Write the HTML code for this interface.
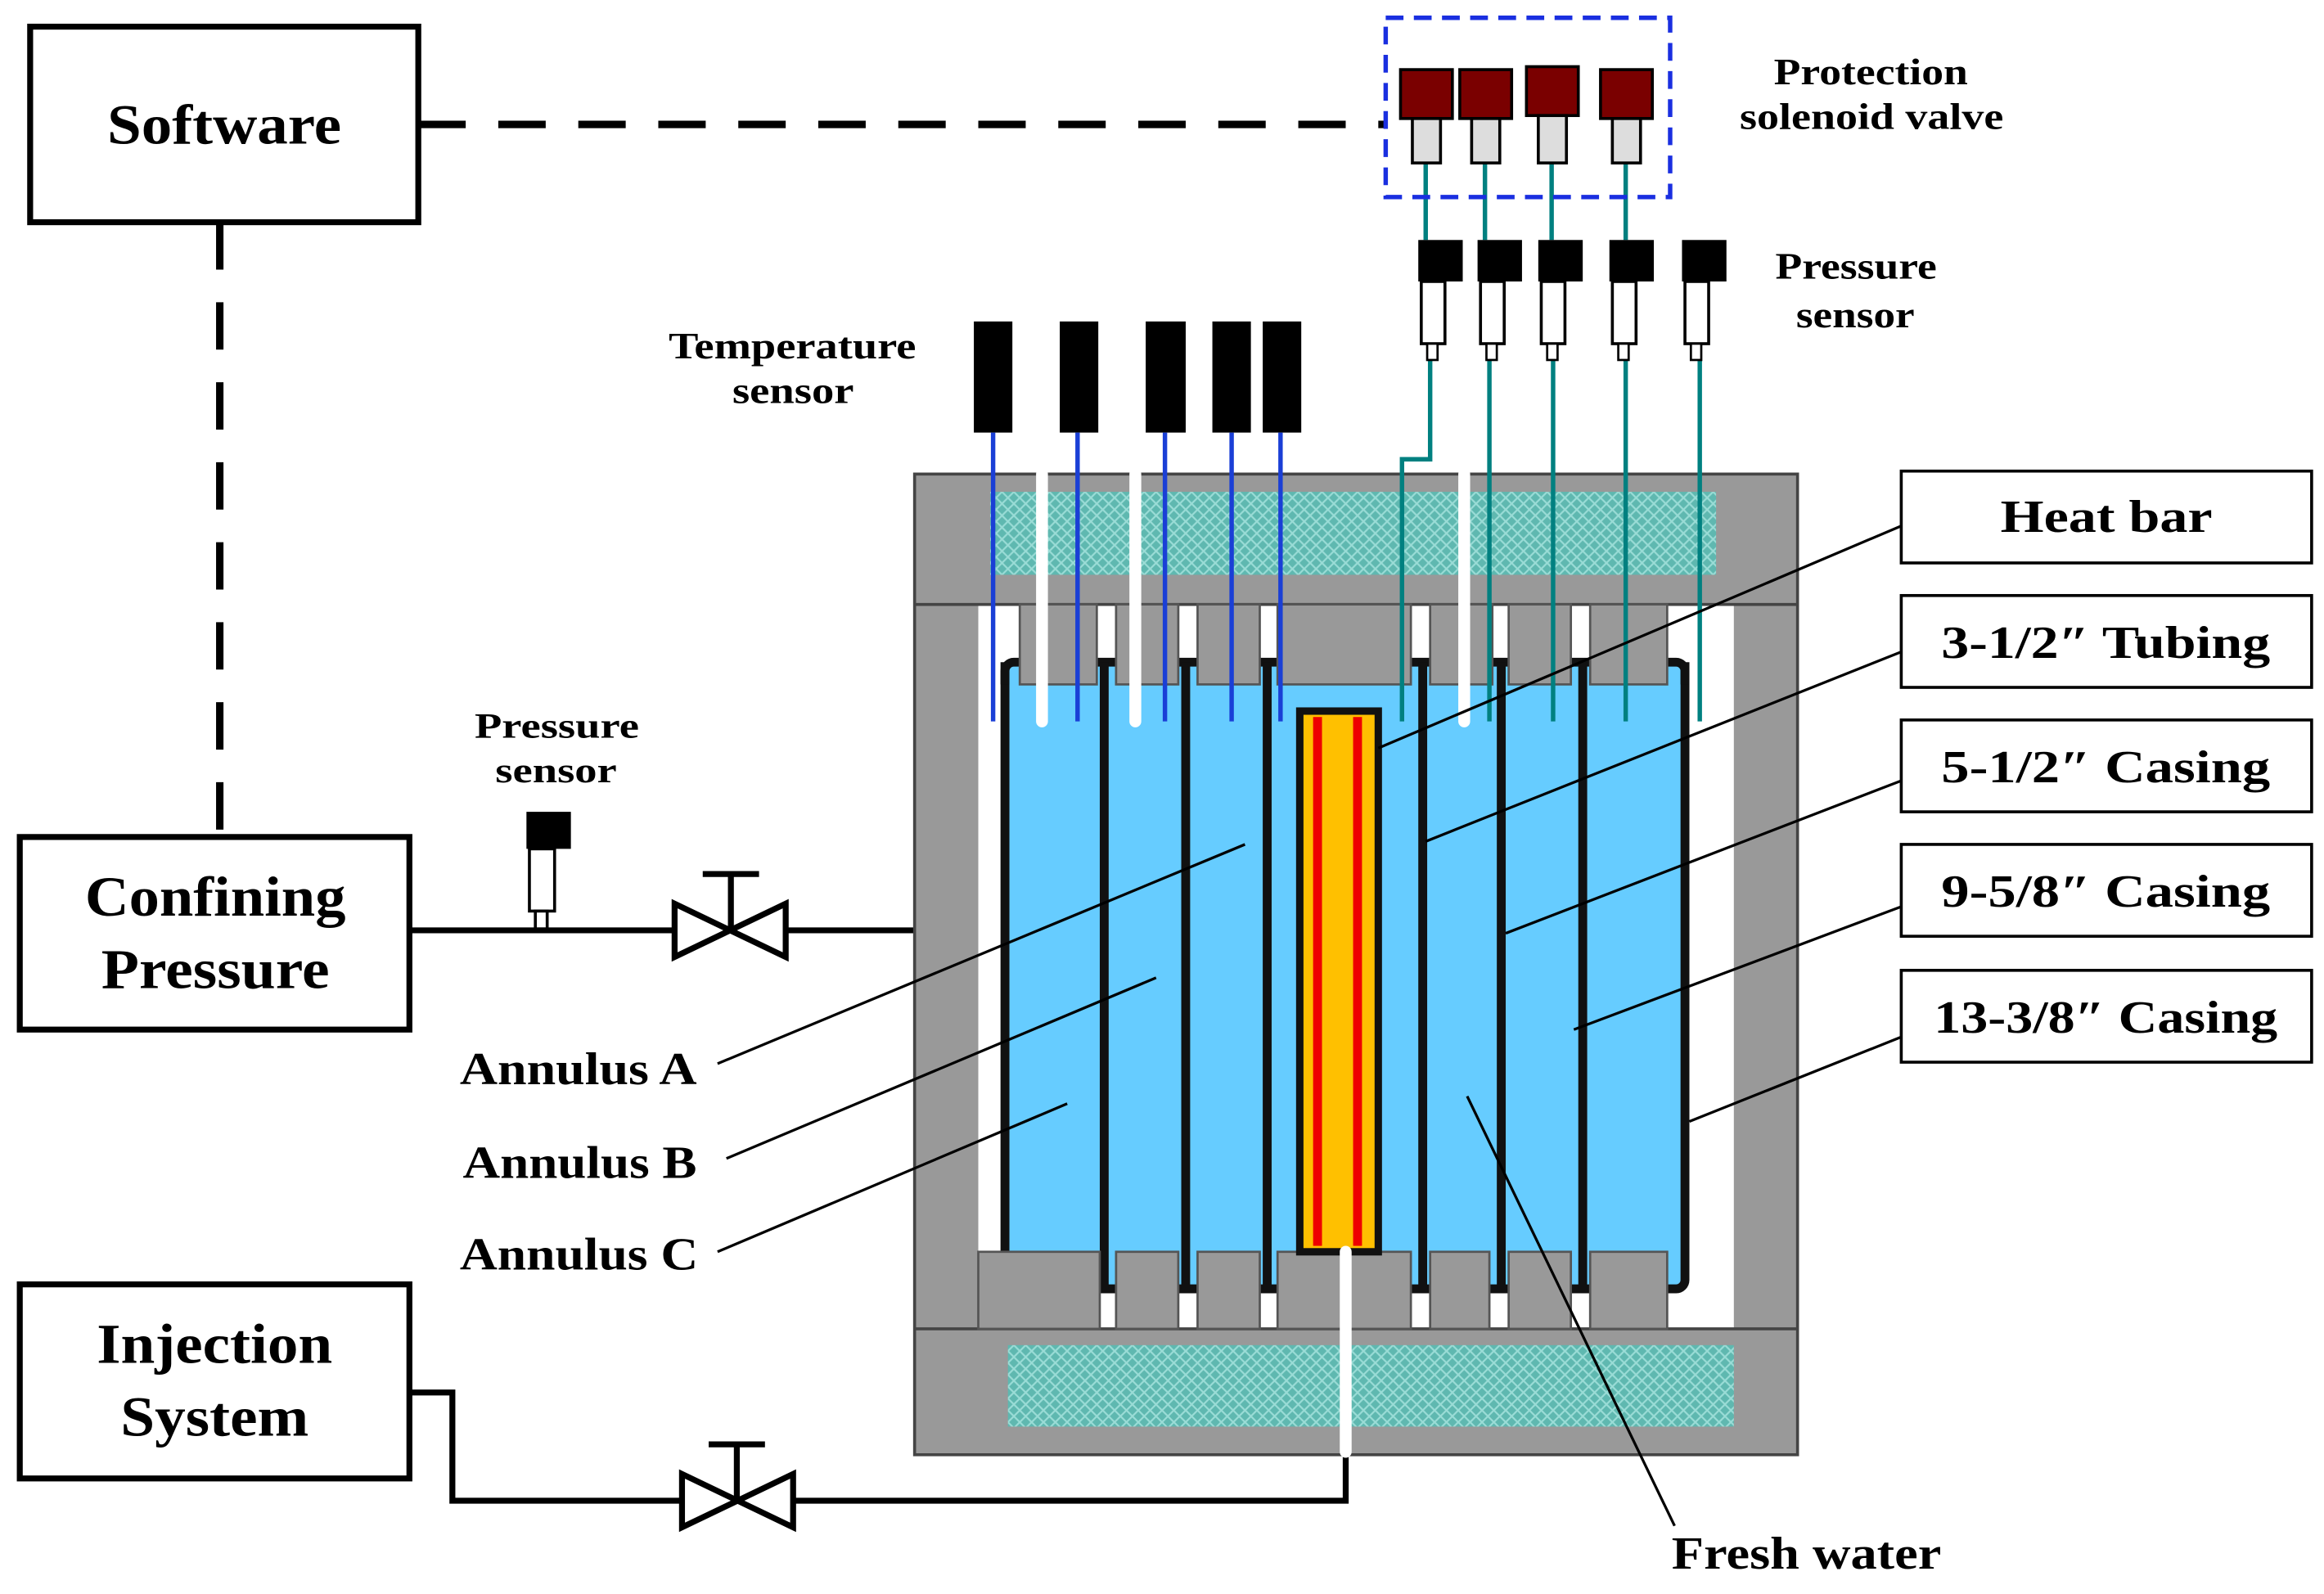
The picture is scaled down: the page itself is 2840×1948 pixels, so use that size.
<!DOCTYPE html>
<html><head><meta charset="utf-8"><style>html,body{margin:0;padding:0;background:#fff}svg{display:block}</style></head>
<body>
<svg width="2840" height="1948" viewBox="0 0 1568 1076" xmlns="http://www.w3.org/2000/svg" font-family="Liberation Serif, serif" font-weight="bold">
<defs>
<pattern id="h" width="8" height="8" patternUnits="userSpaceOnUse">
<rect width="8" height="8" fill="#5fb8b0"/>
<path d="M0 0L8 8M8 0L0 8" stroke="#9adcd6" stroke-width="1.2"/>
</pattern>
</defs>
<rect x="20" y="18" width="262" height="132" fill="#fff" stroke="#000" stroke-width="4"/>
<text x="72" y="97" font-size="38" textLength="158" lengthAdjust="spacingAndGlyphs">Software</text>
<rect x="13" y="565" width="263" height="130" fill="#fff" stroke="#000" stroke-width="4"/>
<text x="57" y="618" font-size="38" textLength="176" lengthAdjust="spacingAndGlyphs">Confining</text>
<text x="68" y="667" font-size="38" textLength="154" lengthAdjust="spacingAndGlyphs">Pressure</text>
<rect x="13" y="867" width="263" height="131" fill="#fff" stroke="#000" stroke-width="4"/>
<text x="65" y="920" font-size="38" textLength="159" lengthAdjust="spacingAndGlyphs">Injection</text>
<text x="81" y="969" font-size="38" textLength="127" lengthAdjust="spacingAndGlyphs">System</text>
<path d="M282 84H935" stroke="#000" stroke-width="5" stroke-dasharray="32 22" fill="none"/>
<path d="M148 150V565" stroke="#000" stroke-width="5" stroke-dasharray="32 22" fill="none"/>
<path d="M276 628H617" stroke="#000" stroke-width="4"/>
<path d="M455 610L530 646V610L455 646Z" fill="#fff" stroke="#000" stroke-width="4"/>
<path d="M493 628V590M474 590H512" stroke="#000" stroke-width="4"/>
<rect x="355" y="548" width="30" height="25" fill="#000"/>
<rect x="357" y="573" width="17" height="42" fill="#fff" stroke="#000" stroke-width="2"/>
<rect x="361" y="615" width="8" height="12" fill="#fff" stroke="#000" stroke-width="2"/>
<text x="320" y="498" font-size="24" textLength="111" lengthAdjust="spacingAndGlyphs">Pressure</text>
<text x="334" y="528" font-size="24" textLength="82" lengthAdjust="spacingAndGlyphs">sensor</text>
<path d="M276 940H305V1013H908V980" stroke="#000" stroke-width="4" fill="none"/>
<path d="M460 995L535 1031V995L460 1031Z" fill="#fff" stroke="#000" stroke-width="4"/>
<path d="M497 1013V975M478 975H516" stroke="#000" stroke-width="4"/>
<rect x="617" y="320" width="596" height="662" fill="#999" stroke="#444" stroke-width="2"/>
<rect x="660" y="408" width="510" height="489" fill="#fff"/>
<path d="M617 408H1213M617 897H1213" stroke="#444" stroke-width="2"/>
<rect x="668" y="332" width="490" height="56" fill="url(#h)"/>
<rect x="680" y="908" width="490" height="55" fill="url(#h)"/>
<rect x="678" y="447" width="459" height="423" rx="6" fill="#66ccff" stroke="#111" stroke-width="6"/>
<g fill="#999" stroke="#555" stroke-width="1.5">
<rect x="688" y="408" width="52" height="54"/><rect x="753" y="408" width="42" height="54"/><rect x="808" y="408" width="42" height="54"/>
<rect x="862" y="408" width="90" height="54"/><rect x="965" y="408" width="42" height="54"/><rect x="1018" y="408" width="42" height="54"/><rect x="1073" y="408" width="52" height="54"/>
</g>
<path d="M678 462V447M1137 462V447" stroke="#111" stroke-width="6"/>
<g stroke="#111" stroke-width="6">
<path d="M745 447V870M800 447V870M855 447V870M960 447V870M1013 447V870M1068 447V870"/>
</g>
<g fill="#999" stroke="#555" stroke-width="1.5">
<rect x="660" y="845" width="82" height="52"/><rect x="753" y="845" width="42" height="52"/><rect x="808" y="845" width="42" height="52"/>
<rect x="862" y="845" width="90" height="52"/><rect x="965" y="845" width="40" height="52"/><rect x="1018" y="845" width="42" height="52"/><rect x="1073" y="845" width="52" height="52"/>
</g>
<rect x="877" y="480" width="53" height="365" fill="#ffc000" stroke="#111" stroke-width="5"/>
<rect x="886" y="484" width="6" height="357" fill="#e00"/>
<rect x="913" y="484" width="6" height="357" fill="#e00"/>
<path d="M703 320V487M766 320V487M988 320V487M908 845V980" stroke="#fff" stroke-width="8" stroke-linecap="round"/>
<g fill="#000"><rect x="657" y="217" width="26" height="75"/><rect x="715" y="217" width="26" height="75"/><rect x="773" y="217" width="27" height="75"/><rect x="818" y="217" width="26" height="75"/><rect x="852" y="217" width="26" height="75"/></g>
<path d="M670 292V487M727 292V487M786 292V487M831 292V487M864 292V487" stroke="#1a3fd6" stroke-width="3"/>
<text x="451" y="242" font-size="25" textLength="167" lengthAdjust="spacingAndGlyphs">Temperature</text>
<text x="494" y="272" font-size="25" textLength="82" lengthAdjust="spacingAndGlyphs">sensor</text>
<g stroke="#008080" stroke-width="3" fill="none">
<path d="M965 243V310H946V487M1005 243V487M1048 243V487M1097 243V487M1147 243V487"/>
<path d="M962 110V162M1002 110V162M1047 110V162M1097 110V162"/>
</g>
<g>
<rect x="957" y="162" width="30" height="28" fill="#000"/><rect x="959" y="190" width="16" height="42" fill="#fff" stroke="#000" stroke-width="2"/><rect x="963" y="232" width="7" height="11" fill="#fff" stroke="#000" stroke-width="1.5"/>
<rect x="997" y="162" width="30" height="28" fill="#000"/><rect x="999" y="190" width="16" height="42" fill="#fff" stroke="#000" stroke-width="2"/><rect x="1003" y="232" width="7" height="11" fill="#fff" stroke="#000" stroke-width="1.5"/>
<rect x="1038" y="162" width="30" height="28" fill="#000"/><rect x="1040" y="190" width="16" height="42" fill="#fff" stroke="#000" stroke-width="2"/><rect x="1044" y="232" width="7" height="11" fill="#fff" stroke="#000" stroke-width="1.5"/>
<rect x="1086" y="162" width="30" height="28" fill="#000"/><rect x="1088" y="190" width="16" height="42" fill="#fff" stroke="#000" stroke-width="2"/><rect x="1092" y="232" width="7" height="11" fill="#fff" stroke="#000" stroke-width="1.5"/>
<rect x="1135" y="162" width="30" height="28" fill="#000"/><rect x="1137" y="190" width="16" height="42" fill="#fff" stroke="#000" stroke-width="2"/><rect x="1141" y="232" width="7" height="11" fill="#fff" stroke="#000" stroke-width="1.5"/>
</g>
<text x="1198" y="188" font-size="25" textLength="109" lengthAdjust="spacingAndGlyphs">Pressure</text>
<text x="1212" y="221" font-size="25" textLength="80" lengthAdjust="spacingAndGlyphs">sensor</text>
<rect x="935" y="12" width="192" height="121" fill="none" stroke="#1a2fe0" stroke-width="3" stroke-dasharray="12 7"/>
<g stroke="#000" stroke-width="2">
<rect x="945" y="47" width="35" height="33" fill="#7a0000"/><rect x="953" y="80" width="19" height="30" fill="#ddd"/>
<rect x="985" y="47" width="35" height="33" fill="#7a0000"/><rect x="993" y="80" width="19" height="30" fill="#ddd"/>
<rect x="1030" y="45" width="35" height="33" fill="#7a0000"/><rect x="1038" y="78" width="19" height="32" fill="#ddd"/>
<rect x="1080" y="47" width="35" height="33" fill="#7a0000"/><rect x="1088" y="80" width="19" height="30" fill="#ddd"/>
</g>
<text x="1197" y="57" font-size="25" textLength="131" lengthAdjust="spacingAndGlyphs">Protection</text>
<text x="1174" y="87" font-size="25" textLength="178" lengthAdjust="spacingAndGlyphs">solenoid valve</text>
<g fill="#fff" stroke="#000" stroke-width="2">
<rect x="1283" y="318" width="277" height="62"/><rect x="1283" y="402" width="277" height="62"/><rect x="1283" y="486" width="277" height="62"/><rect x="1283" y="570" width="277" height="62"/><rect x="1283" y="655" width="277" height="62"/>
</g>
<g font-size="31">
<text x="1350" y="359" textLength="143" lengthAdjust="spacingAndGlyphs">Heat  bar</text>
<text x="1310" y="444" textLength="222" lengthAdjust="spacingAndGlyphs">3-1/2″ Tubing</text>
<text x="1310" y="528" textLength="222" lengthAdjust="spacingAndGlyphs">5-1/2″  Casing</text>
<text x="1310" y="612" textLength="222" lengthAdjust="spacingAndGlyphs">9-5/8″  Casing</text>
<text x="1305" y="697" textLength="232" lengthAdjust="spacingAndGlyphs">13-3/8″ Casing</text>
</g>
<g stroke="#000" stroke-width="1.8">
<path d="M1283 355L930 505M1283 440L962 568M1283 527L1016 630M1283 612L1062 695M1283 700L1140 757"/>
<path d="M484 718L840 570M490 782L780 660M484 845L720 745M1130 1030L990 740"/>
</g>
<g font-size="31">
<text x="310" y="732" textLength="160" lengthAdjust="spacingAndGlyphs">Annulus A</text>
<text x="312" y="795" textLength="158" lengthAdjust="spacingAndGlyphs">Annulus B</text>
<text x="310" y="857" textLength="161" lengthAdjust="spacingAndGlyphs">Annulus C</text>
<text x="1128" y="1059" textLength="182" lengthAdjust="spacingAndGlyphs">Fresh water</text>
</g>
</svg>
</body></html>
